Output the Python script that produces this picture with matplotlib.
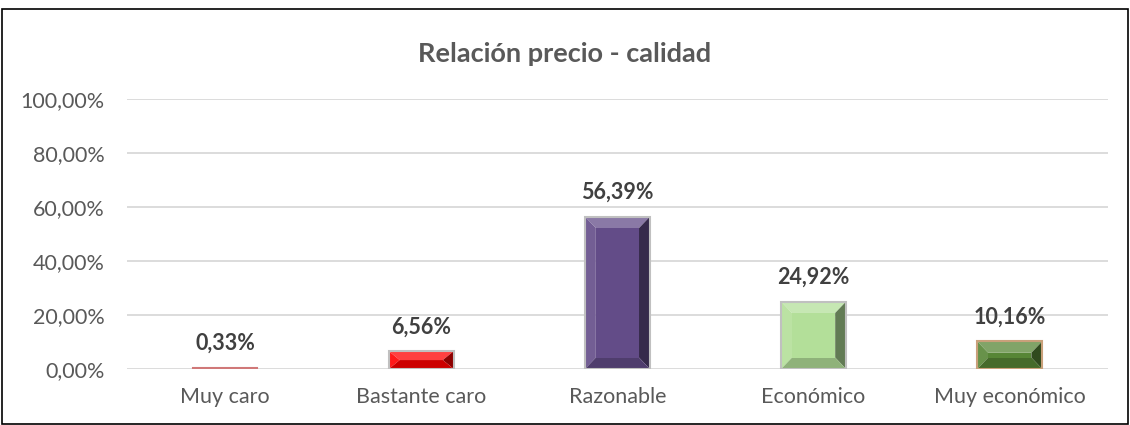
import numpy as np
import matplotlib.pyplot as plt
from matplotlib.patches import Polygon, Rectangle
from matplotlib.ticker import FuncFormatter, MultipleLocator
import matplotlib.colors as mcolors

plt.rcParams["font.family"] = ["Lato", "DejaVu Sans"]

TITLE = "Relación precio - calidad"
categories = ["Muy caro", "Bastante caro", "Razonable", "Económico", "Muy económico"]
values = [0.33, 6.56, 56.39, 24.92, 10.16]
face_colors = ["#f2c4c4", "#ff0000", "#634c88", "#b3df99", "#578636"]
edge_colors = ["#d07878", "#c0c0c0", "#c0c0c0", "#c0c0c0", "#c9a07a"]

TEXT = "#404040"
GRID = "#d9d9d9"


def shade(color, factor):
    r, g, b = mcolors.to_rgb(color)
    if factor > 0:
        return (r + (1 - r) * factor, g + (1 - g) * factor, b + (1 - b) * factor)
    f = 1 + factor
    return (r * f, g * f, b * f)


def bevel_bar(ax, x, h, width, color, edge, bx, by):
    x0, x1 = x - width / 2, x + width / 2
    by = min(by, h / 2)
    bx_ = min(bx, width / 2)
    ix0, ix1 = x0 + bx_, x1 - bx_
    iy0, iy1 = by, h - by
    # bevel faces: top, left, right, bottom
    ax.add_patch(Polygon([(x0, h), (x1, h), (ix1, iy1), (ix0, iy1)], closed=True,
                         facecolor=shade(color, 0.25), edgecolor="none"))
    ax.add_patch(Polygon([(x0, 0), (x0, h), (ix0, iy1), (ix0, iy0)], closed=True,
                         facecolor=shade(color, 0.1), edgecolor="none"))
    ax.add_patch(Polygon([(x1, 0), (x1, h), (ix1, iy1), (ix1, iy0)], closed=True,
                         facecolor=shade(color, -0.45), edgecolor="none"))
    ax.add_patch(Polygon([(x0, 0), (x1, 0), (ix1, iy0), (ix0, iy0)], closed=True,
                         facecolor=shade(color, -0.2), edgecolor="none"))
    if iy1 > iy0:
        ax.add_patch(Rectangle((ix0, iy0), ix1 - ix0, iy1 - iy0,
                               facecolor=color, edgecolor="none"))
    ax.add_patch(Rectangle((x0, 0), width, h, facecolor="none",
                           edgecolor=edge, linewidth=1.5))


fig = plt.figure(figsize=(11.3, 4.25), dpi=100)
fig.patches.append(Rectangle((0.002, 0.002), 0.996, 0.976, transform=fig.transFigure,
                             fill=False, edgecolor="black", linewidth=1.2))

ax = fig.add_axes([0.1124, 0.132, 0.868, 0.635])
x = np.arange(len(categories))
bar_w = 0.33
for xi, v, fc, ec in zip(x, values, face_colors, edge_colors):
    bevel_bar(ax, xi, v, bar_w, fc, ec, 0.055, 4.2)
    ax.annotate(f"{v:.2f}%".replace(".", ","), (xi, v), xytext=(0, 10),
                textcoords="offset points", ha="center", va="bottom",
                fontsize=15.5, fontweight="bold", color=TEXT)

ax.set_xlim(-0.5, len(categories) - 0.5)
ax.set_ylim(0, 100)
ax.yaxis.set_major_locator(MultipleLocator(20))
ax.yaxis.set_major_formatter(FuncFormatter(lambda v, p: f"{v:.2f}%".replace(".", ",")))
ax.set_xticks(x)
ax.set_xticklabels(categories)
ax.tick_params(axis="both", length=0, labelsize=15.5, labelcolor="#595959")
ax.tick_params(axis="x", pad=13)
ax.tick_params(axis="y", pad=16)
ax.grid(axis="y", color=GRID, linewidth=1.3)
ax.set_axisbelow(True)
for s in ax.spines.values():
    s.set_visible(False)

fig.text(0.5, 0.874, TITLE, ha="center", va="center", fontsize=19.5,
         fontweight="bold", color="#595959")

fig.savefig("out.png", dpi=100)
